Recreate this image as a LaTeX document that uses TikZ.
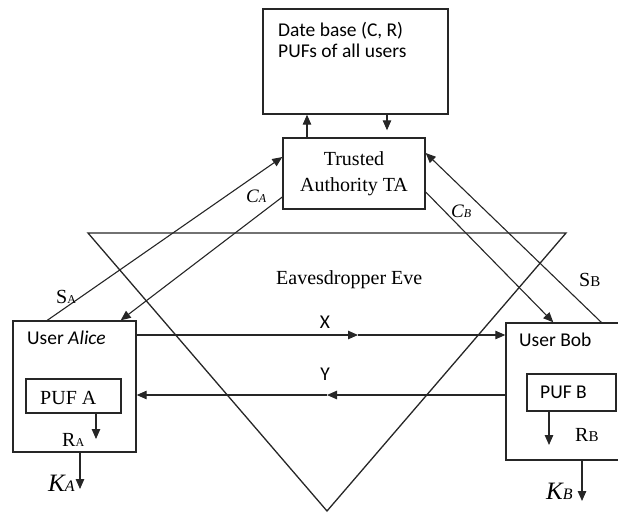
\documentclass[tikz,border=0pt]{standalone}
\usepackage{fontspec}
\setmainfont{Liberation Serif}
\newfontfamily\calfont{Carlito}
\usetikzlibrary{arrows.meta}
\newcommand{\lowsub}[2][12]{\raisebox{-0.5pt}{\fontsize{#1}{#1}\selectfont #2}}

\begin{document}
\begin{tikzpicture}[x=1pt,y=-1pt,
  every node/.style={inner sep=0pt, font=\fontsize{20}{24}\selectfont},
  box/.style={draw=black!85, line width=1.4pt},
  ln/.style={draw=black!85, line width=1.1pt},
  arr/.style={ln, -{Triangle[length=10pt,width=8.5pt]}},
  sans/.style={font=\calfont\fontsize{19.5}{21}\selectfont}]
\useasboundingbox (0,0) rectangle (618,512);
\clip (0,0) rectangle (618,512);
% data base and trusted authority
\node[box, minimum width=185pt, minimum height=105pt] (db) at (355.5,61.5) {};
\node[sans, anchor=base west] (dbline1) at (278,36) {Date base (C, R)};
\node[sans, anchor=base west] (dbline2) at (278,57) {PUFs of all users};
\node[box, minimum width=142pt, minimum height=71pt, align=center,
  font=\fontsize{20}{26}\selectfont] (ta) at (354,173.5) {Trusted\\Authority TA};
\coordinate (up) at ([xshift=-47pt]ta.north);
\coordinate (dn) at ([xshift=33pt]ta.north);
\draw[arr] (up) -- (up |- db.south);
\draw[arr, shorten >=7pt] (dn |- db.south) -- (dn);
% eve
\draw[ln, line width=1.3pt] (88,233) -- (566,233) -- (327,511) -- cycle;
\node[anchor=base west] (eve) at (276,284) {Eavesdropper Eve};
% alice
\node[box, minimum width=123pt, minimum height=131pt] (alice) at (74.5,386.5) {};
\node[sans, anchor=base west] (alicename) at (27,344) {User \textit{Alice}};
\node[box, minimum width=95pt, minimum height=34pt] (pufa) at (73.5,396) {};
\node[anchor=base west] (pufatext) at (40,404) {PUF A};
\coordinate (ra) at (96,439);
\draw[arr] (pufa.south -| ra) -- (ra);
\node[anchor=base west] (ralabel) at (62,446) {R\lowsub{A}};
\coordinate (ka) at (80,489);
\draw[arr] (alice.south -| ka) -- (ka);
\node[anchor=base west, font=\fontsize{25}{25}\selectfont] (kalabel) at (48,491) {\textit{K\lowsub[16]{A}}};
% bob
\node[box, minimum width=116pt, minimum height=137pt] (bob) at (564,391.5) {};
\node[sans, anchor=base west] (bobname) at (519,346) {User Bob};
\node[box, minimum width=89pt, minimum height=37pt] (pufb) at (571.5,392.5) {};
\node[sans, anchor=base west] (pufbtext) at (540,398) {PUF B};
\coordinate (rb) at (549,445);
\draw[arr] (pufb.south -| rb) -- (rb);
\node[anchor=base west] (rblabel) at (575,441) {R\lowsub[15]{B}};
\coordinate (kb) at (582,501);
\draw[arr] (bob.south -| kb) -- (kb);
\node[anchor=base west, font=\fontsize{25}{25}\selectfont] (kblabel) at (546,499) {\textit{K\lowsub[16]{B}}};
% X and Y
\coordinate (xm) at (358,335);
\draw[arr] (alice.east |- xm) -- (xm);
\draw[arr] (xm) -- (bob.west |- xm);
\node[sans, anchor=base] (xlabel) at (325,328) {X};
\coordinate (ym) at (327,395);
\draw[arr] (bob.west |- ym) -- (ym);
\draw[arr] (ym) -- (alice.east |- ym);
\node[sans, anchor=base] (ylabel) at (325,380) {Y};
% key exchange with TA
\draw[arr] ([xshift=35pt]alice.north west) -- ([yshift=16.5pt]ta.west);
\draw[arr] ([yshift=-23.5pt]ta.west) -- ([xshift=-16pt]alice.north east);
\draw[arr] ([yshift=-18.5pt]ta.east) -- ([xshift=48pt]bob.north west);
\draw[arr] ([xshift=96pt]bob.north west) -- ([yshift=20.5pt]ta.east);
\node[anchor=base west, font=\fontsize{19}{19}\selectfont] (calabel) at (246,202) {\textit{C\lowsub{A}}};
\node[anchor=base west] (salabel) at (56,303) {S\lowsub{A}};
\node[anchor=base west, font=\fontsize{19}{19}\selectfont] (cblabel) at (451,217) {\textit{C\lowsub{B}}};
\node[anchor=base west] (sblabel) at (579,286) {S\lowsub[15]{B}};
\end{tikzpicture}
\end{document}
